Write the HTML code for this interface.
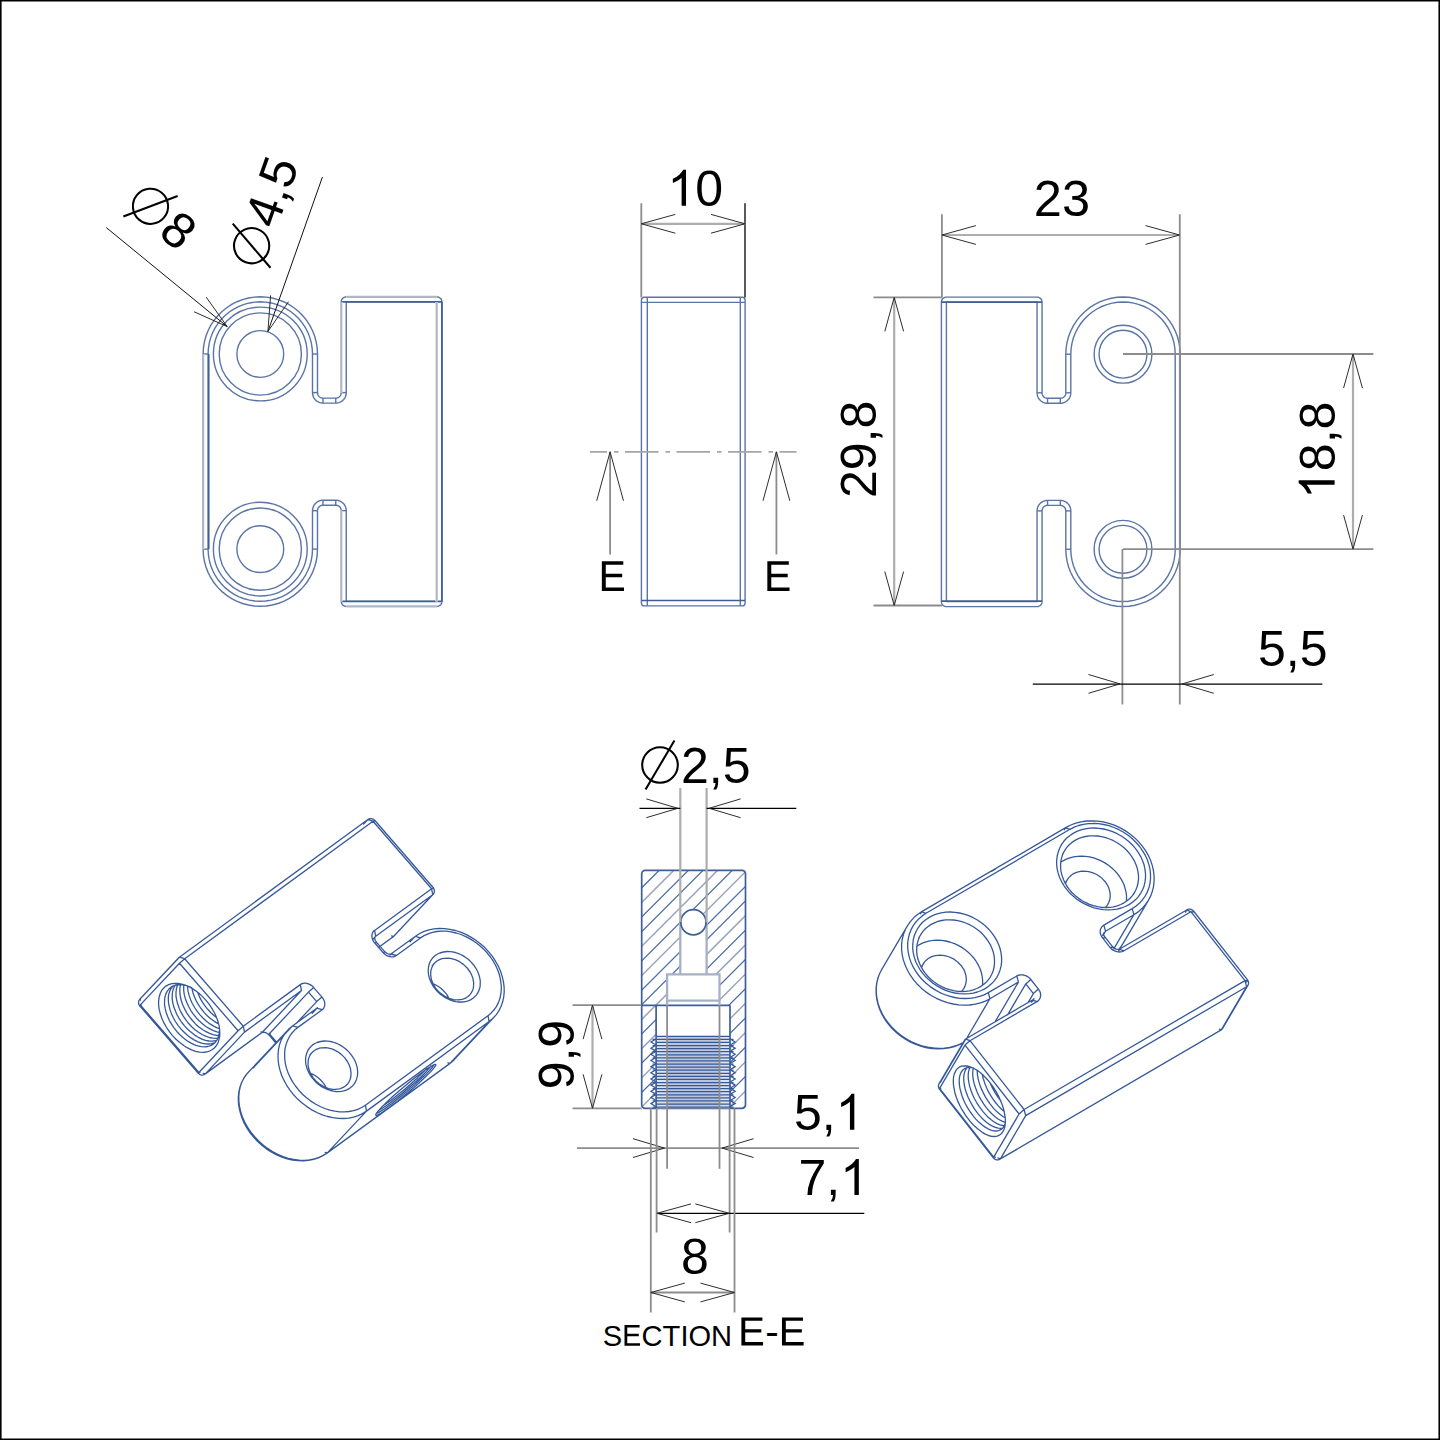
<!DOCTYPE html>
<html><head><meta charset="utf-8"><title>drawing</title><style>
html,body{margin:0;padding:0;background:#fff}
body{width:1440px;height:1440px;overflow:hidden;position:relative;font-family:"Liberation Sans",sans-serif}
svg{position:absolute;left:0;top:0;display:block}
text{font-family:"Liberation Sans",sans-serif;fill:#000}
path,circle,rect{fill:none}
.b{stroke:#5a74a6;stroke-width:1.4}
.bd{stroke:#3f5f96;stroke-width:1.7}
.bl{stroke:#aeb6c8;stroke-width:2.2}
.bl2{stroke:#a7b0c7;stroke-width:2.3}
.w{stroke:#fff;stroke-width:2.6}
.h{stroke:#4a6ba3;stroke-width:1.25}
.i{stroke:#35589a;stroke-width:1.3;stroke-linejoin:round;stroke-linecap:round}
.d{stroke:#000;stroke-width:1.3}
.g1{stroke:#8c8c8c;stroke-width:1.8}
.g2{stroke:#adadad;stroke-width:2.2}
.a{stroke:#222;stroke-width:0.95}
.hl{stroke:#98a4be;stroke-width:1.5}
.th{stroke:#35589a;stroke-width:1.25}
.ld{stroke:#111;stroke-width:1}
.chain{stroke:#a6a6a6;stroke-width:1.7;stroke-dasharray:33.5 7 4.5 6.5;stroke-dashoffset:16.4}
</style></head>
<body>
<svg width="1440" height="1440" viewBox="0 0 1440 1440">
<rect x="0" y="0" width="1440" height="1440" style="fill:#fff"/>
<path class="b" d="M346.25 296.9L436.9 296.9L436.9 296.9L437.42 296.93L437.94 297.01L438.45 297.14L438.93 297.33L439.4 297.57L439.84 297.85L440.25 298.18L440.62 298.55L440.95 298.96L441.23 299.4L441.47 299.87L441.66 300.35L441.79 300.86L441.87 301.38L441.9 301.9L441.9 301.9L441.9 601.4L441.9 601.4L441.87 601.92L441.79 602.44L441.66 602.95L441.47 603.43L441.23 603.9L440.95 604.34L440.62 604.75L440.25 605.12L439.84 605.45L439.4 605.73L438.93 605.97L438.45 606.16L437.94 606.29L437.42 606.37L436.9 606.4L436.9 606.4L346.25 606.4L346.25 606.4L345.73 606.37L345.21 606.29L344.7 606.16L344.22 605.97L343.75 605.73L343.31 605.45L342.9 605.12L342.53 604.75L342.2 604.34L341.92 603.9L341.68 603.43L341.49 602.95L341.36 602.44L341.28 601.92L341.25 601.4L341.25 601.4L341.25 510.7L341.25 510.7L341.22 510.13L341.13 509.56L340.98 509L340.77 508.46L340.51 507.95L340.2 507.47L339.84 507.02L339.43 506.61L338.98 506.25L338.5 505.94L337.99 505.68L337.45 505.47L336.89 505.32L336.32 505.23L335.75 505.2L335.75 505.2L323 505.2L323 505.2L322.43 505.23L321.86 505.32L321.3 505.47L320.76 505.68L320.25 505.94L319.77 506.25L319.32 506.61L318.91 507.02L318.55 507.47L318.24 507.95L317.98 508.46L317.77 509L317.62 509.56L317.53 510.13L317.5 510.7L317.5 510.7L317.5 549.1L317.5 549.1L317.19 555.08L316.25 560.99L314.7 566.78L312.55 572.37L309.84 577.7L306.58 582.72L302.81 587.37L298.57 591.61L293.92 595.38L288.9 598.64L283.57 601.35L277.98 603.5L272.19 605.05L266.28 605.99L260.3 606.3L254.32 605.99L248.41 605.05L242.62 603.5L237.03 601.35L231.7 598.64L226.68 595.38L222.03 591.61L217.79 587.37L214.02 582.72L210.76 577.7L208.05 572.37L205.9 566.78L204.35 560.99L203.41 555.08L203.1 549.1L203.1 549.1L203.1 354L203.1 354L203.41 348.02L204.35 342.11L205.9 336.32L208.05 330.73L210.76 325.4L214.02 320.38L217.79 315.73L222.03 311.49L226.68 307.72L231.7 304.46L237.03 301.75L242.62 299.6L248.41 298.05L254.32 297.11L260.3 296.8L266.28 297.11L272.19 298.05L277.98 299.6L283.57 301.75L288.9 304.46L293.92 307.72L298.57 311.49L302.81 315.73L306.58 320.38L309.84 325.4L312.55 330.73L314.7 336.32L316.25 342.11L317.19 348.02L317.5 354L317.5 354L317.5 392.6L317.5 392.6L317.53 393.17L317.62 393.74L317.77 394.3L317.98 394.84L318.24 395.35L318.55 395.83L318.91 396.28L319.32 396.69L319.77 397.05L320.25 397.36L320.76 397.62L321.3 397.83L321.86 397.98L322.43 398.07L323 398.1L323 398.1L335.75 398.1L335.75 398.1L336.32 398.07L336.89 397.98L337.45 397.83L337.99 397.62L338.5 397.36L338.98 397.05L339.43 396.69L339.84 396.28L340.2 395.83L340.51 395.35L340.77 394.84L340.98 394.3L341.13 393.74L341.22 393.17L341.25 392.6L341.25 392.6L341.25 301.9L341.25 301.9L341.28 301.38L341.36 300.86L341.49 300.35L341.68 299.87L341.92 299.4L342.2 298.96L342.53 298.55L342.9 298.18L343.31 297.85L343.75 297.57L344.22 297.33L344.7 297.14L345.21 297.01L345.73 296.93L346.25 296.9Z"/>
<path class="b" d="M346.25 301.9L436.9 301.9L436.9 301.9L436.9 301.9L436.9 301.9L436.9 301.9L436.9 301.9L436.9 301.9L436.9 301.9L436.9 301.9L436.9 301.9L436.9 301.9L436.9 301.9L436.9 301.9L436.9 301.9L436.9 301.9L436.9 301.9L436.9 301.9L436.9 301.9L436.9 601.4L436.9 601.4L436.9 601.4L436.9 601.4L436.9 601.4L436.9 601.4L436.9 601.4L436.9 601.4L436.9 601.4L436.9 601.4L436.9 601.4L436.9 601.4L436.9 601.4L436.9 601.4L436.9 601.4L436.9 601.4L436.9 601.4L436.9 601.4L346.25 601.4L346.25 601.4L346.25 601.4L346.25 601.4L346.25 601.4L346.25 601.4L346.25 601.4L346.25 601.4L346.25 601.4L346.25 601.4L346.25 601.4L346.25 601.4L346.25 601.4L346.25 601.4L346.25 601.4L346.25 601.4L346.25 601.4L346.25 601.4L346.25 510.7L346.25 510.7L346.19 509.6L346.02 508.52L345.74 507.46L345.34 506.43L344.84 505.45L344.24 504.53L343.55 503.67L342.78 502.9L341.92 502.21L341 501.61L340.02 501.11L338.99 500.71L337.93 500.43L336.85 500.26L335.75 500.2L335.75 500.2L323 500.2L323 500.2L321.9 500.26L320.82 500.43L319.76 500.71L318.73 501.11L317.75 501.61L316.83 502.21L315.97 502.9L315.2 503.67L314.51 504.53L313.91 505.45L313.41 506.43L313.01 507.46L312.73 508.52L312.56 509.6L312.5 510.7L312.5 510.7L312.5 549.1L312.5 549.1L312.21 554.56L311.36 559.95L309.95 565.23L307.99 570.33L305.51 575.2L302.53 579.78L299.09 584.03L295.23 587.89L290.98 591.33L286.4 594.31L281.53 596.79L276.43 598.75L271.15 600.16L265.76 601.01L260.3 601.3L254.84 601.01L249.45 600.16L244.17 598.75L239.07 596.79L234.2 594.31L229.62 591.33L225.37 587.89L221.51 584.03L218.07 579.78L215.09 575.2L212.61 570.33L210.65 565.23L209.24 559.95L208.39 554.56L208.1 549.1L208.1 549.1L208.1 354L208.1 354L208.39 348.54L209.24 343.15L210.65 337.87L212.61 332.77L215.09 327.9L218.07 323.32L221.51 319.07L225.37 315.21L229.62 311.77L234.2 308.79L239.07 306.31L244.17 304.35L249.45 302.94L254.84 302.09L260.3 301.8L265.76 302.09L271.15 302.94L276.43 304.35L281.53 306.31L286.4 308.79L290.98 311.77L295.23 315.21L299.09 319.07L302.53 323.32L305.51 327.9L307.99 332.77L309.95 337.87L311.36 343.15L312.21 348.54L312.5 354L312.5 354L312.5 392.6L312.5 392.6L312.56 393.7L312.73 394.78L313.01 395.84L313.41 396.87L313.91 397.85L314.51 398.77L315.2 399.63L315.97 400.4L316.83 401.09L317.75 401.69L318.73 402.19L319.76 402.59L320.82 402.87L321.9 403.04L323 403.1L323 403.1L335.75 403.1L335.75 403.1L336.85 403.04L337.93 402.87L338.99 402.59L340.02 402.19L341 401.69L341.92 401.09L342.78 400.4L343.55 399.63L344.24 398.77L344.84 397.85L345.34 396.87L345.74 395.84L346.02 394.78L346.19 393.7L346.25 392.6L346.25 392.6L346.25 301.9L346.25 301.9L346.25 301.9L346.25 301.9L346.25 301.9L346.25 301.9L346.25 301.9L346.25 301.9L346.25 301.9L346.25 301.9L346.25 301.9L346.25 301.9L346.25 301.9L346.25 301.9L346.25 301.9L346.25 301.9L346.25 301.9Z"/>
<path class="b" d="M341.25 510.7L346.25 510.7"/>
<path class="b" d="M335.75 505.2L335.75 500.2"/>
<path class="b" d="M323 505.2L323 500.2"/>
<path class="b" d="M317.5 510.7L312.5 510.7"/>
<path class="b" d="M317.5 549.1L312.5 549.1"/>
<path class="b" d="M203.1 549.1L208.1 549.1"/>
<path class="b" d="M203.1 354L208.1 354"/>
<path class="b" d="M317.5 354L312.5 354"/>
<path class="b" d="M317.5 392.6L312.5 392.6"/>
<path class="b" d="M323 398.1L323 403.1"/>
<path class="b" d="M335.75 398.1L335.75 403.1"/>
<path class="b" d="M341.25 392.6L346.25 392.6"/>
<circle class="b" cx="260.3" cy="354" r="46.9"/>
<circle class="b" cx="260.3" cy="354" r="41.1"/>
<circle class="b" cx="260.3" cy="354" r="23.4"/>
<circle class="b" cx="260.3" cy="549.1" r="46.9"/>
<circle class="b" cx="260.3" cy="549.1" r="41.1"/>
<circle class="b" cx="260.3" cy="549.1" r="23.4"/>
<path class="w" d="M203.1 354L203.1 549.1"/>
<path class="bl" d="M203.1 354L203.1 549.1"/>
<path class="bd" d="M208.7 354L208.7 549.1"/>
<path class="w" d="M346.25 296.9L436.9 296.9"/>
<path class="bl" d="M346.25 296.9L436.9 296.9"/>
<path class="w" d="M346.25 606.4L436.9 606.4"/>
<path class="bl" d="M346.25 606.4L436.9 606.4"/>
<path class="bd" d="M341.25 301.9L441.9 301.9"/>
<path class="bd" d="M341.25 601.4L441.9 601.4"/>
<path class="w" d="M436.7 301.9L436.7 601.4"/>
<path class="bl" d="M436.7 301.9L436.7 601.4"/>
<path class="bd" d="M441.9 301.9L441.9 601.4"/>
<path class="w" d="M341.25 301.9L341.25 392.6"/>
<path class="bl" d="M341.25 301.9L341.25 392.6"/>
<path class="w" d="M341.25 601.4L341.25 510.7"/>
<path class="bl" d="M341.25 601.4L341.25 510.7"/>
<path class="ld" d="M106.3 227.6L227.2 326.6"/>
<path class="a" d="M206.14 297.08L227.2 326.6L194.1 311.78"/>
<path class="ld" d="M322.4 177.1L267.9 331.5"/>
<path class="a" d="M288.51 301.66L267.9 331.5L270.59 295.33"/>
<g transform="translate(150.5 206.3) rotate(39.31)"><circle cx="0" cy="0" r="17.6" fill="none" stroke="#000" stroke-width="2.05"/><path d="M-14.5 25.11L14.5 -25.11" stroke="#000" stroke-width="2.05" fill="none"/><text x="23" y="17.9" font-size="50">8</text></g>
<g transform="translate(251.6 245.7) rotate(-70.56)"><circle cx="0" cy="0" r="17.6" fill="none" stroke="#000" stroke-width="2.05"/><path d="M-14.5 25.11L14.5 -25.11" stroke="#000" stroke-width="2.05" fill="none"/><text x="23" y="17.9" font-size="50">4,5</text></g>
<rect class="b" x="641.4" y="297.2" width="103.7" height="308.7" rx="3" ry="3"/>
<path class="b" d="M647.3 297.2L647.3 605.9"/>
<path class="b" d="M740.3 297.2L740.3 605.9"/>
<path class="b" d="M641.4 302.4L745.1 302.4"/>
<path class="bd" d="M641.4 600.5L745.1 600.5"/>
<path class="chain" d="M589.9 451.8H796.6"/>
<path class="g1" d="M610.1 451.8L610.1 554.4"/>
<path class="a" d="M596.7 500.8L610.1 451.8L623.5 500.8"/>
<path class="g1" d="M776.4 451.8L776.4 554.4"/>
<path class="a" d="M763 500.8L776.4 451.8L789.8 500.8"/>
<g transform="translate(612.4 590.9) translate(-13.84 0)"><path d="M162 0V-1466H1222V-1293H356V-844H1167V-672H356V-173H1256V0Z" transform="translate(0 0) scale(0.02026)" style="fill:#000;stroke:none"/></g>
<g transform="translate(777.9 590.9) translate(-13.84 0)"><path d="M162 0V-1466H1222V-1293H356V-844H1167V-672H356V-173H1256V0Z" transform="translate(0 0) scale(0.02026)" style="fill:#000;stroke:none"/></g>
<path class="g1" d="M641.3 203.3L641.3 297.5"/>
<path class="d" d="M745 203.3L745 297.5"/>
<path class="g2" d="M641.3 223.8L745 223.8"/>
<path class="a" d="M675.3 233.2L641.3 223.8L675.3 214.4"/>
<path class="a" d="M711 214.4L745 223.8L711 233.2"/>
<g transform="translate(695.2 205.8) translate(-27.81 0)"><path d="M763 0H583V-1147Q518 -1085 412.5 -1023Q307 -961 223 -930V-1104Q374 -1175 487 -1276Q600 -1377 647 -1472H763Z" transform="translate(0 0) scale(0.02441)" style="fill:#000;stroke:none"/><text x="27.81" y="0" font-size="50">0</text></g>
<path class="b" d="M1037.05 297.1L946.4 297.1L946.4 297.1L945.88 297.13L945.36 297.21L944.85 297.34L944.37 297.53L943.9 297.77L943.46 298.05L943.05 298.38L942.68 298.75L942.35 299.16L942.07 299.6L941.83 300.07L941.64 300.55L941.51 301.06L941.43 301.58L941.4 302.1L941.4 302.1L941.4 601.6L941.4 601.6L941.43 602.12L941.51 602.64L941.64 603.15L941.83 603.63L942.07 604.1L942.35 604.54L942.68 604.95L943.05 605.32L943.46 605.65L943.9 605.93L944.37 606.17L944.85 606.36L945.36 606.49L945.88 606.57L946.4 606.6L946.4 606.6L1037.05 606.6L1037.05 606.6L1037.57 606.57L1038.09 606.49L1038.6 606.36L1039.08 606.17L1039.55 605.93L1039.99 605.65L1040.4 605.32L1040.77 604.95L1041.1 604.54L1041.38 604.1L1041.62 603.63L1041.81 603.15L1041.94 602.64L1042.02 602.12L1042.05 601.6L1042.05 601.6L1042.05 510.9L1042.05 510.9L1042.08 510.33L1042.17 509.76L1042.32 509.2L1042.53 508.66L1042.79 508.15L1043.1 507.67L1043.46 507.22L1043.87 506.81L1044.32 506.45L1044.8 506.14L1045.31 505.88L1045.85 505.67L1046.41 505.52L1046.98 505.43L1047.55 505.4L1047.55 505.4L1060.3 505.4L1060.3 505.4L1060.87 505.43L1061.44 505.52L1062 505.67L1062.54 505.88L1063.05 506.14L1063.53 506.45L1063.98 506.81L1064.39 507.22L1064.75 507.67L1065.06 508.15L1065.32 508.66L1065.53 509.2L1065.68 509.76L1065.77 510.33L1065.8 510.9L1065.8 510.9L1065.8 549.3L1065.8 549.3L1066.11 555.28L1067.05 561.19L1068.6 566.98L1070.75 572.57L1073.46 577.9L1076.72 582.92L1080.49 587.57L1084.73 591.81L1089.38 595.58L1094.4 598.84L1099.73 601.55L1105.32 603.7L1111.11 605.25L1117.02 606.19L1123 606.5L1128.98 606.19L1134.89 605.25L1140.68 603.7L1146.27 601.55L1151.6 598.84L1156.62 595.58L1161.27 591.81L1165.51 587.57L1169.28 582.92L1172.54 577.9L1175.25 572.57L1177.4 566.98L1178.95 561.19L1179.89 555.28L1180.2 549.3L1180.2 549.3L1180.2 354.2L1180.2 354.2L1179.89 348.22L1178.95 342.31L1177.4 336.52L1175.25 330.93L1172.54 325.6L1169.28 320.58L1165.51 315.93L1161.27 311.69L1156.62 307.92L1151.6 304.66L1146.27 301.95L1140.68 299.8L1134.89 298.25L1128.98 297.31L1123 297L1117.02 297.31L1111.11 298.25L1105.32 299.8L1099.73 301.95L1094.4 304.66L1089.38 307.92L1084.73 311.69L1080.49 315.93L1076.72 320.58L1073.46 325.6L1070.75 330.93L1068.6 336.52L1067.05 342.31L1066.11 348.22L1065.8 354.2L1065.8 354.2L1065.8 392.8L1065.8 392.8L1065.77 393.37L1065.68 393.94L1065.53 394.5L1065.32 395.04L1065.06 395.55L1064.75 396.03L1064.39 396.48L1063.98 396.89L1063.53 397.25L1063.05 397.56L1062.54 397.82L1062 398.03L1061.44 398.18L1060.87 398.27L1060.3 398.3L1060.3 398.3L1047.55 398.3L1047.55 398.3L1046.98 398.27L1046.41 398.18L1045.85 398.03L1045.31 397.82L1044.8 397.56L1044.32 397.25L1043.87 396.89L1043.46 396.48L1043.1 396.03L1042.79 395.55L1042.53 395.04L1042.32 394.5L1042.17 393.94L1042.08 393.37L1042.05 392.8L1042.05 392.8L1042.05 302.1L1042.05 302.1L1042.02 301.58L1041.94 301.06L1041.81 300.55L1041.62 300.07L1041.38 299.6L1041.1 299.16L1040.77 298.75L1040.4 298.38L1039.99 298.05L1039.55 297.77L1039.08 297.53L1038.6 297.34L1038.09 297.21L1037.57 297.13L1037.05 297.1Z"/>
<path class="b" d="M1037.05 302.1L946.4 302.1L946.4 302.1L946.4 302.1L946.4 302.1L946.4 302.1L946.4 302.1L946.4 302.1L946.4 302.1L946.4 302.1L946.4 302.1L946.4 302.1L946.4 302.1L946.4 302.1L946.4 302.1L946.4 302.1L946.4 302.1L946.4 302.1L946.4 302.1L946.4 601.6L946.4 601.6L946.4 601.6L946.4 601.6L946.4 601.6L946.4 601.6L946.4 601.6L946.4 601.6L946.4 601.6L946.4 601.6L946.4 601.6L946.4 601.6L946.4 601.6L946.4 601.6L946.4 601.6L946.4 601.6L946.4 601.6L946.4 601.6L1037.05 601.6L1037.05 601.6L1037.05 601.6L1037.05 601.6L1037.05 601.6L1037.05 601.6L1037.05 601.6L1037.05 601.6L1037.05 601.6L1037.05 601.6L1037.05 601.6L1037.05 601.6L1037.05 601.6L1037.05 601.6L1037.05 601.6L1037.05 601.6L1037.05 601.6L1037.05 601.6L1037.05 510.9L1037.05 510.9L1037.11 509.8L1037.28 508.72L1037.56 507.66L1037.96 506.63L1038.46 505.65L1039.06 504.73L1039.75 503.87L1040.52 503.1L1041.38 502.41L1042.3 501.81L1043.28 501.31L1044.31 500.91L1045.37 500.63L1046.45 500.46L1047.55 500.4L1047.55 500.4L1060.3 500.4L1060.3 500.4L1061.4 500.46L1062.48 500.63L1063.54 500.91L1064.57 501.31L1065.55 501.81L1066.47 502.41L1067.33 503.1L1068.1 503.87L1068.79 504.73L1069.39 505.65L1069.89 506.63L1070.29 507.66L1070.57 508.72L1070.74 509.8L1070.8 510.9L1070.8 510.9L1070.8 549.3L1070.8 549.3L1071.09 554.76L1071.94 560.15L1073.35 565.43L1075.31 570.53L1077.79 575.4L1080.77 579.98L1084.21 584.23L1088.07 588.09L1092.32 591.53L1096.9 594.51L1101.77 596.99L1106.87 598.95L1112.15 600.36L1117.54 601.21L1123 601.5L1128.46 601.21L1133.85 600.36L1139.13 598.95L1144.23 596.99L1149.1 594.51L1153.68 591.53L1157.93 588.09L1161.79 584.23L1165.23 579.98L1168.21 575.4L1170.69 570.53L1172.65 565.43L1174.06 560.15L1174.91 554.76L1175.2 549.3L1175.2 549.3L1175.2 354.2L1175.2 354.2L1174.91 348.74L1174.06 343.35L1172.65 338.07L1170.69 332.97L1168.21 328.1L1165.23 323.52L1161.79 319.27L1157.93 315.41L1153.68 311.97L1149.1 308.99L1144.23 306.51L1139.13 304.55L1133.85 303.14L1128.46 302.29L1123 302L1117.54 302.29L1112.15 303.14L1106.87 304.55L1101.77 306.51L1096.9 308.99L1092.32 311.97L1088.07 315.41L1084.21 319.27L1080.77 323.52L1077.79 328.1L1075.31 332.97L1073.35 338.07L1071.94 343.35L1071.09 348.74L1070.8 354.2L1070.8 354.2L1070.8 392.8L1070.8 392.8L1070.74 393.9L1070.57 394.98L1070.29 396.04L1069.89 397.07L1069.39 398.05L1068.79 398.97L1068.1 399.83L1067.33 400.6L1066.47 401.29L1065.55 401.89L1064.57 402.39L1063.54 402.79L1062.48 403.07L1061.4 403.24L1060.3 403.3L1060.3 403.3L1047.55 403.3L1047.55 403.3L1046.45 403.24L1045.37 403.07L1044.31 402.79L1043.28 402.39L1042.3 401.89L1041.38 401.29L1040.52 400.6L1039.75 399.83L1039.06 398.97L1038.46 398.05L1037.96 397.07L1037.56 396.04L1037.28 394.98L1037.11 393.9L1037.05 392.8L1037.05 392.8L1037.05 302.1L1037.05 302.1L1037.05 302.1L1037.05 302.1L1037.05 302.1L1037.05 302.1L1037.05 302.1L1037.05 302.1L1037.05 302.1L1037.05 302.1L1037.05 302.1L1037.05 302.1L1037.05 302.1L1037.05 302.1L1037.05 302.1L1037.05 302.1L1037.05 302.1Z"/>
<path class="b" d="M1042.05 510.9L1037.05 510.9"/>
<path class="b" d="M1047.55 505.4L1047.55 500.4"/>
<path class="b" d="M1060.3 505.4L1060.3 500.4"/>
<path class="b" d="M1065.8 510.9L1070.8 510.9"/>
<path class="b" d="M1065.8 549.3L1070.8 549.3"/>
<path class="b" d="M1180.2 549.3L1175.2 549.3"/>
<path class="b" d="M1180.2 354.2L1175.2 354.2"/>
<path class="b" d="M1065.8 354.2L1070.8 354.2"/>
<path class="b" d="M1065.8 392.8L1070.8 392.8"/>
<path class="b" d="M1060.3 398.3L1060.3 403.3"/>
<path class="b" d="M1047.55 398.3L1047.55 403.3"/>
<path class="b" d="M1042.05 392.8L1037.05 392.8"/>
<circle class="b" cx="1123" cy="354.2" r="28.9"/>
<circle class="b" cx="1123" cy="354.2" r="23.9"/>
<circle class="b" cx="1123" cy="549.3" r="28.9"/>
<circle class="b" cx="1123" cy="549.3" r="23.9"/>
<path class="bd" d="M1042.05 302.1L941.4 302.1"/>
<path class="bd" d="M1042.05 601.2L941.4 601.2"/>
<path class="g1" d="M941.9 214.2L941.9 297.5"/>
<path class="g1" d="M1179.8 214.2L1179.8 704.4"/>
<path class="g2" d="M941.9 235L1179.6 235"/>
<path class="a" d="M975.9 244.4L941.9 235L975.9 225.6"/>
<path class="a" d="M1145.6 225.6L1179.6 235L1145.6 244.4"/>
<g transform="translate(1061.9 215.6) translate(-28.09 0)"><text x="0" y="0" font-size="50.5">23</text></g>
<path class="g1" d="M873.5 297.4L941.9 297.4"/>
<path class="g1" d="M873.5 605.5L941.9 605.5"/>
<path class="g2" d="M894.2 297.4L894.2 605.5"/>
<path class="a" d="M884.8 331.4L894.2 297.4L903.6 331.4"/>
<path class="a" d="M903.6 571.5L894.2 605.5L884.8 571.5"/>
<g transform="translate(876.4 449.4) rotate(-90) translate(-48.66 0)"><text x="0" y="0" font-size="50">29,8</text></g>
<path class="g1" d="M1122.9 354L1373.4 354"/>
<path class="g1" d="M1122.9 549.1L1373.4 549.1"/>
<path class="g2" d="M1353 354L1353 549.1"/>
<path class="a" d="M1343.6 388L1353 354L1362.4 388"/>
<path class="a" d="M1362.4 515.1L1353 549.1L1343.6 515.1"/>
<g transform="translate(1334.6 450.3) rotate(-90) translate(-48.66 0)"><path d="M763 0H583V-1147Q518 -1085 412.5 -1023Q307 -961 223 -930V-1104Q374 -1175 487 -1276Q600 -1377 647 -1472H763Z" transform="translate(0 0) scale(0.02441)" style="fill:#000;stroke:none"/><text x="27.81" y="0" font-size="50">8,8</text></g>
<path class="g1" d="M1122.4 549.1L1122.4 704.4"/>
<path class="d" d="M1032.8 684.1L1322.4 684.1"/>
<path class="a" d="M1088.5 674.5L1120 683.9L1088.5 693.3"/>
<path class="a" d="M1213.8 693.3L1182.3 683.9L1213.8 674.5"/>
<g transform="translate(1258 665.7)"><text x="0" y="0" font-size="50">5,5</text></g>
<clipPath id="mat"><path clip-rule="evenodd" d="M641.7 870.3H745.5V1108.3H641.7ZM680.3 974.4V922.2A13.15 13.15 0 0 1 706.6 922.2V974.4H719.5V1005.3H730V1108.3H656.1V1005.3H667.1V974.4Z"/></clipPath>
<g clip-path="url(#mat)"><path class="hl" d="M639.7 904.42L747.5 796.62M639.7 948.28L747.5 840.48M639.7 977.52L747.5 869.72M639.7 1021.38L747.5 913.58M639.7 1050.62L747.5 942.82M639.7 1079.86L747.5 972.06M639.7 1109.1L747.5 1001.3M639.7 1138.34L747.5 1030.54M639.7 1167.58L747.5 1059.78M639.7 1196.82L747.5 1089.02"/><path class="h" d="M639.7 889.8L747.5 782M639.7 919.04L747.5 811.24M639.7 933.66L747.5 825.86M639.7 962.9L747.5 855.1M639.7 992.14L747.5 884.34M639.7 1006.76L747.5 898.96M639.7 1036L747.5 928.2M639.7 1065.24L747.5 957.44M639.7 1094.48L747.5 986.68M639.7 1123.72L747.5 1015.92M639.7 1152.96L747.5 1045.16M639.7 1182.2L747.5 1074.4M639.7 1211.44L747.5 1103.64"/></g>
<rect class="bd" x="641.7" y="870.3" width="103.8" height="238" rx="3.5" ry="3.5"/>
<rect x="667.1" y="1036" width="52.4" height="72.3" style="fill:#bcc5d8"/>
<rect x="656.1" y="1036" width="11" height="72.3" style="fill:#dde2ec"/>
<rect x="719.5" y="1036" width="10.5" height="72.3" style="fill:#dde2ec"/>
<path class="th" d="M656.1 1036.3H730M652.6 1039.38H733.5M656.1 1042.46H730M652.6 1045.54H733.5M656.1 1048.62H730M652.6 1051.7H733.5M656.1 1054.78H730M652.6 1057.86H733.5M656.1 1060.94H730M652.6 1064.02H733.5M656.1 1067.1H730M652.6 1070.18H733.5M656.1 1073.26H730M652.6 1076.34H733.5M656.1 1079.42H730M652.6 1082.5H733.5M656.1 1085.58H730M652.6 1088.66H733.5M656.1 1091.74H730M652.6 1094.82H733.5M656.1 1097.9H730M652.6 1100.98H733.5M656.1 1104.06H730M652.6 1107.14H733.5"/>
<path class="th" d="M656.1 1038.92L650.9 1042L656.1 1045.08L650.9 1048.16L656.1 1051.24L650.9 1054.32L656.1 1057.4L650.9 1060.48L656.1 1063.56L650.9 1066.64L656.1 1069.72L650.9 1072.8L656.1 1075.88L650.9 1078.96L656.1 1082.04L650.9 1085.12L656.1 1088.2L650.9 1091.28L656.1 1094.36L650.9 1097.44L656.1 1100.52L650.9 1103.6L656.1 1106.68M730 1038.92L735.2 1042L730 1045.08L735.2 1048.16L730 1051.24L735.2 1054.32L730 1057.4L735.2 1060.48L730 1063.56L735.2 1066.64L730 1069.72L735.2 1072.8L730 1075.88L735.2 1078.96L730 1082.04L735.2 1085.12L730 1088.2L735.2 1091.28L730 1094.36L735.2 1097.44L730 1100.52L735.2 1103.6L730 1106.68"/>
<path class="bd" d="M656.1 1108.3V1005.3M730 1108.3V1005.3M641.7 1005.3H730"/>
<path class="bl2" d="M667.1 1005.3V974.4H719.5V1005.3M667.1 1000.6H719.5"/>
<path class="bl2" d="M680.3 974.4V922.2M706.6 974.4V922.2"/>
<circle class="bd" cx="693.4" cy="922.2" r="12.6"/>
<path class="g2" d="M680.3 788L680.3 922"/>
<path class="g2" d="M706.6 788L706.6 922"/>
<path class="d" d="M639.5 808.3L680.3 808.3"/>
<path class="d" d="M706.6 808.3L796.3 808.3"/>
<path class="a" d="M646.3 798.9L677.8 808.3L646.3 817.7"/>
<path class="a" d="M740.6 817.7L709.1 808.3L740.6 798.9"/>
<g transform="translate(660 765)"><circle cx="0" cy="0" r="17.8" fill="none" stroke="#000" stroke-width="2.05"/><path d="M-14.46 24.56L14.46 -24.56" stroke="#000" stroke-width="2.05" fill="none"/></g>
<g transform="translate(681 782.6)"><text x="0" y="0" font-size="50">2,5</text></g>
<path class="g1" d="M572.5 1005.2L641.6 1005.2"/>
<path class="g1" d="M572.5 1108.3L641.6 1108.3"/>
<path class="g2" d="M592.5 1005.2L592.5 1108.3"/>
<path class="a" d="M583.1 1039.2L592.5 1005.2L601.9 1039.2"/>
<path class="a" d="M601.9 1074.3L592.5 1108.3L583.1 1074.3"/>
<g transform="translate(573.9 1054.6) rotate(-90) translate(-34.75 0)"><text x="0" y="0" font-size="50">9,9</text></g>
<path class="g1" d="M667.1 1005.3L667.1 1168.8"/>
<path class="g1" d="M719.5 1005.3L719.5 1168.8"/>
<path class="g1" d="M577 1148.1L859 1148.1"/>
<path class="a" d="M633 1138.7L664.5 1148.1L633 1157.5"/>
<path class="a" d="M753.6 1157.5L722.1 1148.1L753.6 1138.7"/>
<g transform="translate(794 1129.7)"><text x="0" y="0" font-size="50">5,</text><path d="M763 0H583V-1147Q518 -1085 412.5 -1023Q307 -961 223 -930V-1104Q374 -1175 487 -1276Q600 -1377 647 -1472H763Z" transform="translate(41.7 0) scale(0.02441)" style="fill:#000;stroke:none"/></g>
<path class="g1" d="M656.6 1108.2L656.6 1232.5"/>
<path class="g1" d="M729.6 1108.2L729.6 1232.5"/>
<path class="d" d="M657 1213.3L864.3 1213.3"/>
<path class="a" d="M691 1222.7L657 1213.3L691 1203.9"/>
<path class="a" d="M695.3 1203.9L729.3 1213.3L695.3 1222.7"/>
<g transform="translate(798.5 1194.9)"><text x="0" y="0" font-size="50">7,</text><path d="M763 0H583V-1147Q518 -1085 412.5 -1023Q307 -961 223 -930V-1104Q374 -1175 487 -1276Q600 -1377 647 -1472H763Z" transform="translate(41.7 0) scale(0.02441)" style="fill:#000;stroke:none"/></g>
<path class="g1" d="M650.8 1108.2L650.8 1312.5"/>
<path class="g1" d="M734.5 1108.2L734.5 1312.5"/>
<path class="g1" d="M650.8 1292.5L734.5 1292.5"/>
<path class="a" d="M684.8 1301.9L650.8 1292.5L684.8 1283.1"/>
<path class="a" d="M700.5 1283.1L734.5 1292.5L700.5 1301.9"/>
<g transform="translate(694.8 1273.7) translate(-13.9 0)"><text x="0" y="0" font-size="50">8</text></g>
<g transform="translate(602.8 1345.8)"><text x="0" y="0" font-size="29.1">S</text><path d="M162 0V-1466H1222V-1293H356V-844H1167V-672H356V-173H1256V0Z" transform="translate(19.41 0) scale(0.01421)" style="fill:#000;stroke:none"/><text x="38.82" y="0" font-size="29.1">CTION</text></g>
<g transform="translate(738.2 1345.4) scale(1.04 1)"><path d="M162 0V-1466H1222V-1293H356V-844H1167V-672H356V-173H1256V0Z" transform="translate(0 0) scale(0.01904)" style="fill:#000;stroke:none"/><text x="26.01" y="0" font-size="39">-</text><path d="M162 0V-1466H1222V-1293H356V-844H1167V-672H356V-173H1256V0Z" transform="translate(39 0) scale(0.01904)" style="fill:#000;stroke:none"/></g>
<path class="i" d="M243.3 1026.2L184.7 958.7M238.1 1030.7L179.5 963.2M198.9 1072.5L140.3 1004.9M243.3 1026.2L238.1 1030.7M238.1 1030.7L198.9 1072.5M198.9 1072.5L199.9 1072.4M184.7 958.7L179.5 963.2M179.5 963.2L140.3 1004.9M140.3 1004.9L141.3 1004.9M184.7 958.7L373 821.2M184.7 958.7L179.4 957.2M179.4 957.2L140.2 998.9M140.2 998.9L140.5 1000.2M373 821.2L367.7 819.7M367.7 819.7L363.6 824.1M373 821.2L431.6 888.8M373 821.2L374.1 821.2M431.6 888.8L432.6 888.7M431.6 888.8L374.6 930.4M432.7 894.7L375.7 936.3M393.5 936.5L379.1 947M431.6 888.8L432.7 894.7M432.7 894.7L393.5 936.5M393.5 936.5L391.5 935.9M374.6 930.4L373.9 930.9M373.9 930.9L373.4 931.5M373.4 931.5L372.9 932.2M372.9 932.2L372.5 933M372.5 933L372.2 933.8M372.2 933.8L372 934.7M372 934.7L371.9 935.6M371.9 935.6L371.9 936.5M371.9 936.5L372 937.5M372 937.5L372.3 938.5M372.3 938.5L372.6 939.4M372.6 939.4L373 940.4M373 940.4L373.5 941.3M373.5 941.3L374.1 942.2M374.1 942.2L374.8 943M374.6 930.4L375.7 936.3M375.7 936.3L373.7 938.5M374.8 943L383 952.5M374.8 943L375.8 942.9M383 952.5L383.7 953.3M383.7 953.3L384.6 954M384.6 954L385.4 954.7M385.4 954.7L386.3 955.3M386.3 955.3L387.3 955.8M387.3 955.8L388.3 956.2M388.3 956.2L389.2 956.5M389.2 956.5L390.2 956.7M390.2 956.7L391.2 956.9M391.2 956.9L392.2 956.9M392.2 956.9L393.1 956.8M393.1 956.8L394 956.6M394 956.6L394.9 956.3M394.9 956.3L395.7 956M395.7 956L396.4 955.5M383 952.5L384.1 952.4M396.4 955.5L420.5 937.9M396.4 955.5L391.1 954M391.1 954L390 955.1M420.5 937.9L424.1 935.6M424.1 935.6L428.1 933.8M428.1 933.8L432.3 932.4M432.3 932.4L436.8 931.5M436.8 931.5L441.5 931.1M441.5 931.1L446.3 931.2M446.3 931.2L451.1 931.9M451.1 931.9L456.1 933M456.1 933L461 934.5M461 934.5L465.8 936.6M465.8 936.6L470.5 939.1M470.5 939.1L475 942M475 942L479.3 945.3M479.3 945.3L483.4 948.9M483.4 948.9L487.1 952.8M487.1 952.8L490.4 957M490.4 957L493.4 961.4M493.4 961.4L495.9 966M495.9 966L498 970.7M498 970.7L499.6 975.5M499.6 975.5L500.6 980.3M500.6 980.3L501.2 985M501.2 985L501.3 989.6M501.3 989.6L500.8 994.2M500.8 994.2L499.9 998.5M499.9 998.5L498.4 1002.6M498.4 1002.6L496.5 1006.4M496.5 1006.4L494.1 1009.8M494.1 1009.8L491.2 1012.9M491.2 1012.9L488 1015.7M492.7 1018.6L489.1 1021.6M453.5 1060.4L449.9 1063.4M420.5 937.9L415.2 936.4M415.2 936.4L410.1 941.8M488 1015.7L365.4 1105.2M489.1 1021.6L366.5 1111.1M449.9 1063.4L327.3 1152.9M488 1015.7L489.1 1021.6M489.1 1021.6L449.9 1063.4M449.9 1063.4L447.9 1062.8M365.4 1105.2L361.7 1107.5M366.5 1111.1L362.5 1113.6M327.3 1152.9L323.3 1155.4M361.7 1107.5L357.8 1109.3M362.5 1113.6L358.2 1115.6M323.3 1155.4L319 1157.4M357.8 1109.3L353.6 1110.7M358.2 1115.6L353.6 1117.1M319 1157.4L314.4 1158.9M353.6 1110.7L349.1 1111.5M353.6 1117.1L348.7 1118.1M314.4 1158.9L309.5 1159.9M349.1 1111.5L344.4 1111.9M348.7 1118.1L343.6 1118.5M309.5 1159.9L304.4 1160.3M344.4 1111.9L339.6 1111.8M343.6 1118.5L338.3 1118.4M304.4 1160.3L299.1 1160.2M339.6 1111.8L334.7 1111.2M338.3 1118.4L332.9 1117.7M299.1 1160.2L293.7 1159.5M334.7 1111.2L329.8 1110.1M332.9 1117.7L327.6 1116.5M293.7 1159.5L288.3 1158.3M329.8 1110.1L324.9 1108.5M327.6 1116.5L322.2 1114.8M288.3 1158.3L283 1156.6M324.9 1108.5L320.1 1106.5M322.2 1114.8L316.9 1112.5M283 1156.6L277.7 1154.3M320.1 1106.5L315.4 1104M316.9 1112.5L311.7 1109.8M277.7 1154.3L272.5 1151.6M315.4 1104L310.8 1101.1M311.7 1109.8L306.8 1106.6M272.5 1151.6L267.6 1148.4M310.8 1101.1L306.5 1097.8M306.8 1106.6L302.1 1103M267.6 1148.4L262.8 1144.8M306.5 1097.8L302.5 1094.2M302.1 1103L297.6 1099.1M262.8 1144.8L258.4 1140.8M302.5 1094.2L298.8 1090.2M297.6 1099.1L293.6 1094.8M258.4 1140.8L254.4 1136.5M298.8 1090.2L295.5 1086M293.6 1094.8L289.9 1090.2M254.4 1136.5L250.7 1131.9M295.5 1086L292.5 1081.6M289.9 1090.2L286.7 1085.3M250.7 1131.9L247.5 1127.1M292.5 1081.6L290 1077.1M286.7 1085.3L283.9 1080.3M247.5 1127.1L244.7 1122.1M290 1077.1L287.9 1072.4M283.9 1080.3L281.6 1075.2M244.7 1122.1L242.4 1116.9M287.9 1072.4L286.3 1067.6M281.6 1075.2L279.9 1069.9M242.4 1116.9L240.7 1111.7M286.3 1067.6L285.2 1062.8M279.9 1069.9L278.7 1064.7M240.7 1111.7L239.5 1106.5M285.2 1062.8L284.7 1058.1M278.7 1064.7L278.1 1059.5M239.5 1106.5L238.9 1101.3M284.7 1058.1L284.6 1053.4M278.1 1059.5L278 1054.4M238.9 1101.3L238.8 1096.2M284.6 1053.4L285 1048.9M278 1054.4L278.5 1049.5M238.8 1096.2L239.3 1091.2M285 1048.9L286 1044.6M278.5 1049.5L279.5 1044.7M239.3 1091.2L240.3 1086.5M286 1044.6L287.5 1040.5M279.5 1044.7L281.1 1040.3M240.3 1086.5L241.9 1082M287.5 1040.5L289.4 1036.7M281.1 1040.3L283.3 1036.1M241.9 1082L244.1 1077.9M289.4 1036.7L291.8 1033.2M283.3 1036.1L285.9 1032.3M244.1 1077.9L246.7 1074.1M291.8 1033.2L294.6 1030.1M294.6 1030.1L297.9 1027.4M365.4 1105.2L366.5 1111.1M366.5 1111.1L327.3 1152.9M327.3 1152.9L325.3 1152.3M297.9 1027.4L322.2 1009.7M297.9 1027.4L292.6 1025.9M292.6 1025.9L253.4 1067.7M322.2 1009.7L322.8 1009.2M322.8 1009.2L323.4 1008.5M323.4 1008.5L323.9 1007.8M323.9 1007.8L324.2 1007.1M324.2 1007.1L324.5 1006.2M324.5 1006.2L324.7 1005.4M324.7 1005.4L324.8 1004.5M324.8 1004.5L324.8 1003.5M324.8 1003.5L324.7 1002.6M324.7 1002.6L324.5 1001.6M324.5 1001.6L324.2 1000.7M324.2 1000.7L323.7 999.7M323.7 999.7L323.2 998.8M323.2 998.8L322.6 997.9M322.6 997.9L322 997.1M322.2 1009.7L316.8 1008.2M316.8 1008.2L312.2 1013.1M322 997.1L313.7 987.6M316.7 1001.6L308.5 992.1M276.6 1042.2L269.3 1033.8M322 997.1L316.7 1001.6M316.7 1001.6L296.4 1023.3M313.7 987.6L313 986.8M313 986.8L312.2 986M312.2 986L311.3 985.4M311.3 985.4L310.4 984.8M310.4 984.8L309.4 984.3M309.4 984.3L308.5 983.9M308.5 983.9L307.5 983.6M307.5 983.6L306.5 983.3M306.5 983.3L305.5 983.2M305.5 983.2L304.5 983.2M304.5 983.2L303.6 983.3M303.6 983.3L302.7 983.5M302.7 983.5L301.9 983.7M301.9 983.7L301.1 984.1M301.1 984.1L300.3 984.6M313.7 987.6L308.5 992.1M308.5 992.1L269.3 1033.8M269.3 1033.8L270.3 1033.8M300.3 984.6L243.3 1026.2M301.5 990.5L244.5 1032.1M262.3 1032.3L205.3 1073.9M300.3 984.6L301.5 990.5M301.5 990.5L262.3 1032.3M262.3 1032.3L260.9 1031.9M243.3 1026.2L244.5 1032.1M244.5 1032.1L205.3 1073.9M205.3 1073.9L203.3 1073.3M312.9 1044.8L314.9 1043.5L317.1 1042.5L320.7 1041.5L324.5 1041L327.2 1041.1L329.9 1041.4L332.6 1042L335.3 1042.9L338 1044L340.6 1045.4L343.1 1047L345.5 1048.8L348.8 1051.9L351.6 1055.4L353.3 1057.8L354.7 1060.3L355.8 1062.9L356.7 1065.6L357.3 1068.2L357.6 1070.8L357.7 1073.4L357.4 1075.9L356.5 1079.4L355 1082.7L353.7 1084.6L352.1 1086.3L350.3 1087.8L348.3 1089.1L346.1 1090.1L343.8 1090.9L341.3 1091.3L338.7 1091.6L336.1 1091.5L333.4 1091.2L330.6 1090.5L327.9 1089.7L325.2 1088.5L322.6 1087.2L320.1 1085.6L317.7 1083.7L315 1081.2L311.6 1077.2L310 1074.8L308.6 1072.2L307.4 1069.6L306.6 1067L305.9 1064.4L305.6 1061.7L305.6 1059.2L305.8 1056.7L306.4 1054.3L307.2 1052L308.2 1049.9L309.6 1048L311.2 1046.3L312.9 1044.8M314.1 1050.7L315.7 1049.7L317.5 1048.8L319.5 1048.2L321.5 1047.8L325.9 1047.7L328.7 1048.1L332.6 1049.2L337 1051.3L341 1054.1L344.6 1057.6L347.4 1061.5L348.8 1064.1L350.3 1067.9L351 1072.3L350.9 1076.5L350 1079.7L348.9 1082.1L347.8 1083.7L346.5 1085.1L345 1086.3L343.3 1087.4L341.5 1088.2L339.6 1088.8L335.4 1089.4L332.6 1089.3L328.7 1088.6L324.2 1086.9L320 1084.4L316.2 1081.3L313 1077.6L310.5 1073.4L308.8 1069.1L308 1064.8L308.2 1060.6L308.6 1058.6L309.3 1056.7L310.2 1055L311.3 1053.4L312.6 1052L314.1 1050.7M310.1 1073.1L312.4 1074.1L315 1075.5L318.5 1078L320.4 1079.7L323.6 1083.4L325 1085.4L326.4 1088.1M435.6 955.3L437.6 954L439.8 953L443.4 952L447.2 951.5L449.8 951.6L452.5 951.9L455.3 952.5L458 953.4L460.7 954.5L463.3 955.9L465.8 957.5L468.2 959.3L470.9 961.9L474.3 965.8L475.9 968.3L477.3 970.8L478.5 973.4L479.3 976.1L479.9 978.7L480.3 981.3L480.2 984.5L480.1 986.4L479.5 988.8L478.7 991.1L477.6 993.2L476.3 995.1L474.7 996.8L472.9 998.3L470.9 999.6L468.8 1000.6L466.4 1001.3L463.9 1001.8L461.4 1002L458.7 1002L456 1001.6L453.3 1001L450.5 1000.2L447.9 999L445.3 997.6L442.8 996L440.4 994.2L438.2 992.2L436.1 990L434.2 987.7L432.6 985.3L431.2 982.7L430.1 980.1L429.2 977.5L428.6 974.9L428.3 972.2L428.2 970.3L428.5 967.2L429 964.8L429.8 962.5L430.9 960.4L432.2 958.5L433.8 956.8L435.6 955.3M436.7 961.2L438.4 960.2L440.2 959.3L442.1 958.7L444.2 958.3L448.5 958.2L451.3 958.6L455.2 959.7L459.6 961.7L463.7 964.6L467.2 968L470.1 972L471.5 974.6L472.9 978.4L473.7 982.8L473.5 987L473.1 988.9L472.4 990.8L471.1 993.1L469.1 995.6L467.6 996.8L466 997.9L464.2 998.7L462.2 999.3L458 999.9L453.6 999.6L449.1 998.3L444.7 996.3L440.7 993.4L438 990.9L435.6 988.1L433.1 983.9L431.4 979.6L430.7 975.2L430.8 971L431.3 969.1L432 967.2L432.8 965.5L433.9 963.9L435.2 962.4L436.7 961.2M432.8 983.6L435 984.5L438.7 986.7L441.2 988.5L443 990.2L446.3 993.9L447.6 995.9L449 998.6M163.5 988.2L161.5 990.7L160.3 993.2L159.1 997.2L158.6 1001L158.6 1003.1L158.6 1005.1L159.2 1009.4L160.3 1013.8L161.9 1018.4L164 1022.9L166.4 1027.3L169.8 1032.1L172.5 1035.6L176 1039.3L179.8 1042.6L183.7 1045.5L187.1 1047.7L191.6 1049.9L195.6 1051.3L199.5 1052.1L203.1 1052.4L206.6 1052L208.5 1051.4L209.7 1051L212.5 1049.5L214.9 1047.5L216.1 1045.9L216.9 1044.9L218.3 1041.9L219.3 1038.4L219.6 1036.5L219.8 1034.6L219.7 1030.5L219.2 1026.2L218.1 1021.8L216.2 1016.6L214.4 1012.8L211.9 1008.4L209.1 1004.1L205.8 1000.1L202.3 996.4L199.2 993.5L194.7 990.1L190.8 987.6L186.7 985.7L182.8 984.3L178.2 983.5L175.2 983.3L171.8 983.6L168.7 984.6L165.9 986.1L163.5 988.2M168.9 989.1L167.1 991.4L165.8 994.1L164.9 997.2L164.6 1000L164.5 1004.3L165.1 1008.2L166.1 1012.2L167.5 1016.2L169.3 1020.3L172.3 1025.4L174.2 1028.1L177 1031.7L180.2 1035.1L183.5 1038.1L187 1040.7L190.6 1042.9L194.2 1044.6L196 1045.3L197.8 1045.9L201.3 1046.6L204.6 1046.8L207.7 1046.5L210.5 1045.6L213 1044.3L215.2 1042.4L216.9 1040.1L218.2 1037.4L219.1 1034.3L219.5 1030.9L219.5 1029.4M191.6 987.7L189.8 986.9L186.3 985.6L182.8 984.9L179.5 984.7L176.4 985L173.5 985.9L171 987.2L168.9 989.1M172.7 986.3L171 988.6L169.9 990.8L168.7 994.4L168.3 997.8L168.4 1001.5L168.7 1004.1L169.9 1009.4L171.3 1013.4L173.2 1017.5L175.4 1021.5L178 1025.3L180.9 1028.9L183.1 1031.3L187.4 1035.3L190.9 1037.9L194.5 1040.1L198.1 1041.8L201.6 1043.1L205.1 1043.8L208.4 1044L211.5 1043.7L215 1042.5M175.2 985.2L173.5 988.5L172.6 991.6L172.2 995L172.2 996.5L172.2 998.7L172.7 1002.6L173.7 1006.6L175.5 1011.3L177 1014.7L179.2 1018.7L181.8 1022.5L184.7 1026.1L187.9 1029.5L190.3 1031.6L194.7 1035.1L198.3 1037.3L202.5 1039.3L205.5 1040.3L208.9 1041L212.2 1041.2L216 1040.7M177.8 984.6L177.3 985.7L176.4 988.8L176 992.2L176 995.9L176.6 999.8L177.6 1003.8L179.3 1008.5L180.8 1011.9L183.1 1015.9L185.7 1019.7L188.5 1023.3L191.7 1026.7L195 1029.7L196.8 1031L198.5 1032.3L202.1 1034.5L205.7 1036.2L209.3 1037.5L212.8 1038.2L216.1 1038.4L217.3 1038.3M180.6 984.8L180.2 986L179.8 989.4L179.9 993.1L180.4 997L181.4 1001L182.8 1005L184.7 1009.1L186.9 1013.1L189.5 1016.9L192.4 1020.5L195.5 1023.9L198.9 1026.9L202.4 1029.5L206 1031.7L209.6 1033.4L213.1 1034.7L216.6 1035.4L218.6 1035.5M183.8 985.3L183.7 986.6L183.7 990.3L184.2 994.2L185.2 998.2L186.7 1002.2L188.5 1006.3L190.7 1010.3L193.3 1014.1L196.2 1017.7L199.4 1021.1L202.7 1024.1L206.2 1026.7L209.8 1028.9L213.4 1030.6L217 1031.9L219 1032.3M187.5 986L187.6 987.5L188.1 991.4L189.1 995.4L190.5 999.4L192.3 1003.5L194.6 1007.5L197.2 1011.3L200 1014.9L203.2 1018.3L206.5 1021.3L210 1023.9L213.6 1026.1L217.2 1027.9L219 1028.5M191.8 987.9L192.9 992.6L194.3 996.6L196.2 1000.7L198.1 1004.1L201 1008.5L204.3 1012.6L207 1015.5L210.4 1018.5L213.9 1021.1L218.1 1023.6M197.7 992.5L200 997.9L202.2 1001.9L204.8 1005.7L207.7 1009.3L210.9 1012.7L214.2 1015.7L216.5 1017.4M430.8 1071.6L423 1079.3L415.5 1086.2L407.8 1092.8L397.8 1101L389.1 1107.6L383.2 1111.7L380.8 1113.3L377.3 1115.1L376.3 1115.3L375.8 1115.2L375.8 1114.6L376.3 1113.5L377.7 1111.7L380.8 1108.1L385.9 1102.9L392.4 1096.8L399.9 1090.2L412.1 1080L419 1074.7L425.5 1069.9L430.7 1066.5L434.2 1064.7L435.2 1064.4L435.8 1064.6L435.8 1065.2L435.5 1065.7L434.2 1067.6L430.8 1071.6M425.4 1070.1L417.4 1077.9L404.7 1089.2L391 1100.2L382 1106.5M426.7 1068.6L425.4 1070.1M429 1071.1L424 1076.1L415.2 1084.3L406.8 1091.6L399.2 1097.8L392 1103.5L384.1 1109.2L378.8 1112.4L376.3 1113.4M433.8 1064.9L432.3 1067.3L429 1071.1M427.2 1070.6L422.4 1075.5L416.3 1081.2L402 1093.5L394.9 1099.2L388.3 1104.2L382.8 1108L378.2 1110.7M431 1066L427.2 1070.6M179 957.5L139.8 999.3M433.1 894.3L393.9 936.1M375.3 936.7L373.2 938.9M493.9 1017.3L454.7 1059.1M287.8 1030.2L248.6 1072M317.3 1007.8L312.2 1013.2M198.3 1073.3L139.7 1005.8M139.7 1005.8L138.8 1004.4L138.5 1002.4L138.9 1000.7L139.8 999.3M179 957.5L179.7 956.9M179.7 956.9L367.9 819.5M367.9 819.5L369.6 818.7L371.3 818.6L373 819.1L374.7 820.3M374.7 820.3L433.3 887.8M433.3 887.8L434.1 889.3L434.5 891.2L434.1 892.9L433.1 894.3M393.9 936.1L393.3 936.7M393.3 936.7L379.5 946.8M375.3 936.7L374.8 937.7L374.8 938.9L375.4 940.5L376.4 942.1M376.4 942.1L384.7 951.6M384.7 951.6L386.2 952.9L387.9 953.8L389.9 954.2L391.3 953.8M391.3 953.8L415.5 936.2M415.5 936.2L419.6 933.5L424.1 931.4L428.9 929.9L434 928.9L439.2 928.5L444.5 928.6L449.9 929.3L455.3 930.5L460.6 932.2L465.9 934.4L470.9 937.1L475.8 940.2L480.4 943.7L484.8 947.6L488.7 951.9L492.4 956.4L495.5 961.2L498.3 966.1L500.5 971.2L502.2 976.4L503.4 981.7L504.1 986.9L504.2 992.1L503.7 997.2L502.6 1002.1L500.9 1006.7L498.7 1011.1L495.9 1015.1L493.9 1017.3M454.7 1059.1L453.4 1060.5L449.7 1063.6M449.7 1063.6L327 1153.1M327 1153.1L322.9 1155.7L318.4 1157.9L313.6 1159.4L308.5 1160.4L303.3 1160.8L298 1160.7L292.6 1160L287.2 1158.8L281.9 1157.1L276.6 1154.9L271.6 1152.2L266.7 1149.1L262.1 1145.5L257.7 1141.6L253.8 1137.4L250.1 1132.9L247 1128.1L244.2 1123.2L242 1118.1L240.3 1112.9L239.1 1107.6L238.4 1102.4L238.3 1097.2L238.8 1092.1L239.9 1087.2L241.6 1082.6L243.8 1078.2L246.6 1074.2L248.6 1072M287.8 1030.2L289.1 1028.8L292.8 1025.7M292.8 1025.7L317.1 1008M317.1 1008L317.3 1007.8M275.9 1043.1L268.7 1034.7M268.7 1034.7L267.2 1033.4L265.4 1032.5L263.4 1032.1L262 1032.5M262 1032.5L205 1074.1M205 1074.1L203.3 1074.9L201.7 1075.1L199.9 1074.6L198.3 1073.3M312.1 1052.5L310 1054.7M347 1084.5L346 1085.6M434.7 963L432.2 965.7M469.6 995L468.6 996.1"/>
<path class="i" d="M939.6 1088.3L993.7 1157.1M965 1045.1L1019.1 1114M970 1040.7L1024.1 1109.5M940.8 1088.3L939.6 1088.3M939.6 1088.3L965 1045.1M965 1045.1L970 1040.7M995.4 1157.2L993.7 1157.1M993.7 1157.1L1019.1 1114M1019.1 1114L1024.1 1109.5M1000.4 1158.8L1221.3 1029.8M1025.7 1115.6L1246.6 986.7M1024.1 1109.5L1245 980.6M997.9 1157.9L1000.4 1158.8M1000.4 1158.8L1025.7 1115.6M1025.7 1115.6L1024.1 1109.5M1219.4 1029.1L1221.3 1029.8M1221.3 1029.8L1246.6 986.7M1246.6 986.7L1245 980.6M1245 980.6L1190.9 911.7M1246.6 982L1247.4 980.7M1247.4 980.7L1245 980.6M1193.3 911.9L1190.9 911.7M1190.9 911.7L1124 950.8M1185.5 912.2L1186.6 910.2M1186.6 910.2L1190.9 911.7M1124 950.8L1123.2 951.2M1123.2 951.2L1122.3 951.5M1122.3 951.5L1121.3 951.8M1121.3 951.8L1120.3 951.9M1120.3 951.9L1119.3 952M1119.3 952L1118.3 951.9M1118.3 951.9L1117.2 951.7M1117.2 951.7L1116.2 951.5M1116.2 951.5L1115.2 951.1M1115.2 951.1L1114.2 950.7M1114.2 950.7L1113.2 950.2M1113.2 950.2L1112.3 949.6M1112.3 949.6L1111.5 948.9M1111.5 948.9L1110.7 948.1M1110.7 948.1L1110 947.3M1118.9 950.6L1119.7 949.3M1119.7 949.3L1124 950.8M1110 947.3L1102.4 937.6M1112.4 947.5L1110 947.3M1102.4 937.6L1101.8 936.8M1101.8 936.8L1101.3 935.9M1101.3 935.9L1100.9 935M1100.9 935L1100.5 934M1100.5 934L1100.3 933M1100.3 933L1100.2 932.1M1100.2 932.1L1100.2 931.1M1100.2 931.1L1100.3 930.2M1100.3 930.2L1100.5 929.3M1100.5 929.3L1100.9 928.5M1100.9 928.5L1101.3 927.7M1101.3 927.7L1101.8 926.9M1101.8 926.9L1102.4 926.3M1102.4 926.3L1103.1 925.7M1103.1 925.7L1103.9 925.1M1104.8 937.8L1102.4 937.6M1105.5 931.2L1133.9 914.7M1103.9 925.1L1132.2 908.6M1102.9 935.7L1105.5 931.2M1105.5 931.2L1103.9 925.1M1133.9 914.7L1138.1 911.9M1132.2 908.6L1136.1 906M1138.1 911.9L1141.9 908.6M1136.1 906L1139.6 903.1M1118.4 949.7L1119.9 948.1M1141.9 908.6L1145.2 905M1139.6 903.1L1142.6 899.7M1119.9 948.1L1122.7 944.1M1145.2 905L1148.1 900.9M1142.6 899.7L1145.2 896M1145.2 896L1147.3 892.1M1147.3 892.1L1148.9 887.8M1148.9 887.8L1150 883.4M1150 883.4L1150.5 878.8M1150.5 878.8L1150.5 874.1M1150.5 874.1L1150 869.3M1150 869.3L1148.9 864.6M1148.9 864.6L1147.3 859.8M1147.3 859.8L1145.2 855.2M1145.2 855.2L1142.6 850.8M1142.6 850.8L1139.6 846.5M1139.6 846.5L1136.1 842.5M1136.1 842.5L1132.3 838.7M1132.3 838.7L1128.1 835.3M1128.1 835.3L1123.6 832.3M1123.6 832.3L1118.9 829.7M1118.9 829.7L1113.9 827.5M1113.9 827.5L1108.9 825.7M1108.9 825.7L1103.7 824.5M1103.7 824.5L1098.5 823.7M1098.5 823.7L1093.4 823.4M1093.4 823.4L1088.3 823.6M1088.3 823.6L1083.4 824.3M1083.4 824.3L1078.6 825.5M1078.6 825.5L1074.2 827.2M1074.2 827.2L1070 829.3M1113.8 948.8L1133.9 914.7M1133.9 914.7L1132.2 908.6M1070 829.3L926 913.3M1064.5 829.8L1065.6 827.8M1065.6 827.8L1070 829.3M926 913.3L922.2 915.9M922.2 915.9L918.7 918.9M918.7 918.9L915.7 922.2M915.7 922.2L913.1 925.9M913.1 925.9L911 929.9M879.8 973.1L878.1 977.8M905.2 930L903.4 934.6M911 929.9L909.4 934.1M878.1 977.8L876.9 982.6M903.4 934.6L902.2 939.5M909.4 934.1L908.3 938.6M876.9 982.6L876.3 987.7M902.2 939.5L901.6 944.5M908.3 938.6L907.7 943.2M876.3 987.7L876.3 992.8M901.6 944.5L901.6 949.7M907.7 943.2L907.7 947.9M876.3 992.8L876.9 998M901.6 949.7L902.2 954.9M907.7 947.9L908.3 952.6M876.9 998L878 1003.2M902.2 954.9L903.4 960.1M908.3 952.6L909.3 957.4M878 1003.2L879.8 1008.4M903.4 960.1L905.2 965.3M909.3 957.4L910.9 962.1M879.8 1008.4L882.1 1013.5M905.2 965.3L907.5 970.3M910.9 962.1L913 966.7M882.1 1013.5L884.9 1018.4M907.5 970.3L910.3 975.2M913 966.7L915.6 971.2M884.9 1018.4L888.3 1023M910.3 975.2L913.6 979.9M915.6 971.2L918.7 975.5M888.3 1023L892.1 1027.5M913.6 979.9L917.4 984.3M918.7 975.5L922.1 979.5M892.1 1027.5L896.3 1031.5M917.4 984.3L921.6 988.4M922.1 979.5L926 983.2M896.3 1031.5L900.9 1035.3M921.6 988.4L926.2 992.1M926 983.2L930.2 986.6M900.9 1035.3L905.8 1038.6M926.2 992.1L931.2 995.5M930.2 986.6L934.7 989.6M905.8 1038.6L911 1041.5M931.2 995.5L936.3 998.3M934.7 989.6L939.4 992.3M911 1041.5L916.4 1043.9M936.3 998.3L941.7 1000.7M939.4 992.3L944.3 994.5M916.4 1043.9L921.9 1045.8M941.7 1000.7L947.3 1002.7M944.3 994.5L949.4 996.2M921.9 1045.8L927.6 1047.2M947.3 1002.7L953 1004M949.4 996.2L954.6 997.5M927.6 1047.2L933.3 1048M953 1004L958.6 1004.9M954.6 997.5L959.7 998.3M933.3 1048L938.9 1048.3M958.6 1004.9L964.3 1005.2M959.7 998.3L964.9 998.5M938.9 1048.3L944.5 1048.1M964.3 1005.2L969.8 1005M964.9 998.5L970 998.3M944.5 1048.1L949.9 1047.3M969.8 1005L975.2 1004.2M970 998.3L974.9 997.6M949.9 1047.3L955.1 1046M975.2 1004.2L980.4 1002.9M974.9 997.6L979.6 996.4M955.1 1046L960 1044.2M980.4 1002.9L985.4 1001.1M979.6 996.4L984.1 994.8M960 1044.2L962.6 1042.9M985.4 1001.1L989.9 998.7M984.1 994.8L988.3 992.6M920.6 913.8L921.7 911.8M921.7 911.8L926 913.3M989.9 998.7L1018.4 982.1M988.3 992.6L1016.8 976M966.9 1038L989.9 998.7M989.9 998.7L988.3 992.6M1016.8 976L1017.6 975.6M1017.6 975.6L1018.5 975.2M1018.5 975.2L1019.5 975M1019.5 975L1020.5 974.8M1020.5 974.8L1021.5 974.8M1021.5 974.8L1022.5 974.9M1022.5 974.9L1023.6 975M1023.6 975L1024.6 975.3M1024.6 975.3L1025.6 975.6M1025.6 975.6L1026.6 976.1M1026.6 976.1L1027.6 976.6M1027.6 976.6L1028.5 977.2M1028.5 977.2L1029.3 977.9M1029.3 977.9L1030.1 978.6M1030.1 978.6L1030.8 979.5M995 1022L1018.4 982.1M1018.4 982.1L1016.8 976M1025.8 983.9L1033.4 993.6M1030.8 979.5L1038.4 989.1M1007.6 1014.8L1025.8 983.9M1025.8 983.9L1030.8 979.5M1038.4 989.1L1039 990M1039 990L1039.5 990.9M1039.5 990.9L1040 991.8M1040 991.8L1040.3 992.8M1040.3 992.8L1040.5 993.7M1040.5 993.7L1040.6 994.7M1040.6 994.7L1040.6 995.6M1040.6 995.6L1040.5 996.6M1040.5 996.6L1040.3 997.4M1040.3 997.4L1040 998.3M1040 998.3L1039.5 999.1M1039.5 999.1L1039 999.8M1039 999.8L1038.4 1000.5M1038.4 1000.5L1037.7 1001.1M1037.7 1001.1L1036.9 1001.6M1028.1 1002.6L1033.4 993.6M1033.4 993.6L1038.4 989.1M1036.9 1001.6L970 1040.7M1031.5 1002.1L1032.6 1000.1M1032.6 1000.1L1036.9 1001.6M940.3 1082.3L965.7 1039.2M965.7 1039.2L970 1040.7M961.3 991.6L962.7 990.1L963.8 988.4L964.8 986.6L965.5 984.6L966 982.6L966.3 980.5L966.3 978.3L965.9 975.4L964.8 971.8L963.9 969.7L961.3 965.7L957.9 962.2L954 959.2L949.5 957L944.8 955.6L940.1 955.1L935.5 955.6L933.4 956.1L931.3 956.9L929.4 957.8L927.6 959L926 960.4L924.6 961.9L923.5 963.6L922.5 965.4L921.6 968M982.4 985.2L982.6 983.7L982.6 980L982.2 976.3L981.3 972.5L980.1 968.8L978.4 965.2L975.6 960.5L974 958.3L971.2 955.1L968.2 952.2L965.5 950L961.4 947.1L957.6 945.1L955.1 943.9L949.8 942L945.7 941L941.6 940.3L937.6 940.1L933.6 940.3L931.6 940.6L929.7 940.8L926 941.8L922.4 943.1L919.1 944.8L916.7 946.4M980.1 986.9L983.2 984.8L985.9 982.5L988.3 979.9L990.3 977L992 973.8L993.3 970.5L994.1 967L994.5 963.4L994.5 959.7L994.1 955.9L993.3 952.2L992 948.5L990.4 944.8L988.3 941.3L985.9 938L983.2 934.8L980.2 931.8L976.9 929.2L973.3 926.8L969.6 924.7L965.7 923L961.7 921.6L957.7 920.6L953.6 920L949.5 919.8L945.5 919.9L941.7 920.5L937.9 921.4L934.4 922.8L931.1 924.4L928.1 926.5L925.3 928.8L922.9 931.4L920.9 934.3L919.2 937.5L918.5 939.5L918 940.8L917.1 944.3L916.7 947.9L916.7 951.6L917.1 955.4L917.9 959.1L919.8 964L920.9 966.5L922.9 970L925.3 973.3L928 976.5L931.1 979.5L933.8 981.7L937.9 984.5L941.6 986.6L945.5 988.3L949.5 989.7L953.5 990.7L957.6 991.3L961.7 991.5L965.7 991.4L969.6 990.8L973.3 989.9L976.8 988.5L980.1 986.9M985.2 988.6L988.6 986.3L991.7 983.6L994.5 980.6L996.8 977.3L998.7 973.7L1000.1 969.9L1001.1 965.9L1001.6 961.8L1001.6 957.6L1001.1 953.3L1000.2 949L998.7 944.8L996.8 940.6L994.5 936.6L991.8 932.8L988.7 929.2L985.2 925.8L981.4 922.8L977.4 920L973.2 917.7L968.7 915.7L964.2 914.1L959.5 913L954.9 912.3L950.2 912L945.7 912.2L941.3 912.9L937 913.9L933 915.4L929.2 917.4L925.7 919.7L922.6 922.3L919.9 925.3L917.6 928.7L915.7 932.2L914.2 936L913.2 940L913.1 941.4L912.8 944.2L912.7 948.4L913.2 952.7L914.2 956.9L915.6 961.2L916.4 963L917.5 965.3L919.8 969.3L922.6 973.2L925.7 976.8L929.2 980.1L932.9 983.2L938.2 986.6L941.2 988.3L945.6 990.3L950.2 991.8L954.8 993L959.5 993.7L964.1 993.9L969.4 993.6L973.1 993.1L977.4 992L981.4 990.5L985.2 988.6M1105.2 907.6L1106.6 906.1L1107.8 904.4L1108.7 902.6L1109.5 900.6L1110 898.6L1110.2 896.5L1110.2 894.3L1109.8 891.4L1108.7 887.8L1107.8 885.7L1105.2 881.7L1101.8 878.1L1097.9 875.2L1095.7 874L1092.9 872.8L1088.8 871.6L1086.4 871.3L1081.7 871.2L1077.3 872.1L1075.2 872.9L1073.3 873.8L1071.5 875L1070 876.4L1068.6 877.9L1067.4 879.6L1066.4 881.4L1065.5 884M1126.3 901.2L1126.5 899.7L1126.5 896L1126.1 892.3L1124.8 887.3L1124 884.8L1122.3 881.2L1119.5 876.5L1117.9 874.3L1115.1 871.1L1111.6 867.7L1108.8 865.5L1105.3 863.1L1101.6 861.1L1098.3 859.6L1093.7 857.9L1089.6 856.9L1085.5 856.3L1081.5 856.1L1077.5 856.3L1073.6 856.8L1069.9 857.8L1066.3 859.1L1063 860.8L1061.2 862M1124 902.8L1127.1 900.8L1129.8 898.5L1132.2 895.9L1134.3 893L1135.9 889.8L1137.2 886.5L1138 883L1138.5 879.4L1138.5 875.7L1138 871.9L1137.2 868.2L1135.9 864.4L1134.3 860.8L1132.2 857.3L1129.8 853.9L1127.1 850.8L1124.1 847.8L1120.8 845.2L1117.2 842.8L1113.5 840.7L1109.6 839L1105.6 837.6L1101.6 836.6L1097.5 836L1093.4 835.8L1089.5 835.9L1085.6 836.5L1081.8 837.4L1078.3 838.7L1075 840.4L1072 842.4L1069.2 844.8L1066.8 847.4L1064.8 850.3L1063.1 853.5L1062.1 856.1L1061 860.3L1060.6 863.9L1060.6 867.6L1061 871.4L1061.9 875.1L1063.7 880L1064.8 882.5L1066.8 886L1069.2 889.3L1071.9 892.5L1075 895.4L1078.3 898.1L1081.8 900.5L1084.9 902.2L1089.4 904.3L1093.4 905.7L1097.5 906.7L1101.5 907.3L1105.6 907.5L1109.6 907.3L1111.5 907.1L1113.5 906.8L1117.2 905.8L1120.7 904.5L1124 902.8M1129.1 904.6L1132.5 902.3L1135.7 899.6L1138.4 896.6L1140.7 893.3L1142.6 889.7L1144.1 885.9L1145 881.9L1145.5 877.8L1145.5 873.6L1145 869.3L1144.1 865L1142.6 860.8L1140.7 856.6L1138.4 852.6L1135.7 848.8L1132.6 845.2L1129.1 841.8L1125.3 838.8L1121.3 836L1117.1 833.7L1112.6 831.7L1108.1 830.1L1103.5 829L1098.8 828.3L1094.2 828L1089.6 828.2L1085.2 828.9L1080.9 829.9L1076.9 831.4L1073.1 833.4L1069.7 835.7L1066.5 838.3L1063.8 841.3L1061.5 844.6L1059.6 848.2L1058.4 851.4L1057.2 856L1056.7 860.1L1056.7 864.4L1057.1 868.6L1058.1 872.9L1059.5 877.2L1061.4 881.3L1063.8 885.3L1064.9 887L1066.5 889.2L1069.6 892.8L1073.1 896.1L1076.8 899.2L1080.9 901.9L1084.5 903.9L1089.5 906.2L1094.1 907.8L1098.7 908.9L1103.4 909.7L1108 909.9L1112.6 909.7L1114.8 909.4L1117 909.1L1121.3 908L1125.3 906.5L1129.1 904.6M1003.1 1131.3L1004.3 1128.7L1005.1 1125.6L1005.4 1122L1005.3 1118.1L1004.3 1112.1L1003.7 1109.5L1002.3 1105L1000.5 1100.4L998.4 1095.8L995.9 1091.3L993.1 1086.9L989.7 1082.3L986.9 1079L983.6 1075.6L980.2 1072.6L976.8 1070.1L974 1068.5L970.2 1066.8L967.1 1066L964.2 1065.8L961.5 1066.2L959.2 1067.2L957.2 1068.8L956 1070.4L954.4 1073.6L953.6 1076.7L953.3 1080.2L953.4 1084.1L953.9 1087.6L954.9 1092.7L956.3 1097.3L958.1 1101.9L960.3 1106.5L961.7 1109.1L965.6 1115.3L969.9 1121.1L971.8 1123.2L975.1 1126.6L978.5 1129.6L981.9 1132.1L985.2 1134.1L987.2 1134.9L988.5 1135.5L991.6 1136.3L994.5 1136.5L997.1 1136.1L999.5 1135.1L1001 1133.9L1001.5 1133.5L1003.1 1131.3M1004 1126.4L1005.3 1123.3M973.7 1068.1L971.6 1067.6L969 1067.4L966.6 1067.8L964.5 1068.7L962.7 1070.1L961.3 1072L960.2 1074.4L959.5 1077.2L959.2 1080.4L959.3 1083.9L959.8 1087.7L960.4 1090.3L962 1095.7L963.6 1099.9L965.5 1104L967.8 1108.1L970.3 1112L973 1115.7L975.8 1119.1L978.8 1122.1L981.9 1124.8L985.5 1127.4L988 1128.8L990.9 1130.1L993.7 1130.8L996.3 1131L998.7 1130.6L1000.8 1129.7L1002.6 1128.3L1004 1126.4M967.2 1067.5L965.5 1070L964.7 1071.8L964 1074.6L963.7 1077.7L963.9 1081.9L964.3 1085L965.2 1089L966.5 1093.1L968.1 1097.2L969.8 1100.8L972.3 1105.4L974.8 1109.4L977.9 1113.6L980.3 1116.4L983.3 1119.5L986.4 1122.2L989.4 1124.4L992.5 1126.2L995.4 1127.4L998.2 1128.2L1000.8 1128.3L1002.6 1128.1M970 1067.3L969.2 1069.1L968.5 1071.9L968.2 1075.1L968.3 1078.6L968.8 1082.4L969.7 1086.4L971 1090.5L972.3 1093.9L974.5 1098.8L976.8 1102.8L979.3 1106.7L983.4 1112.1L987.8 1116.9L990.9 1119.6L993.9 1121.8L997 1123.6L999.9 1124.8L1002.7 1125.5L1004 1125.6M973.4 1067.9L973 1069.3L972.7 1072.5L972.8 1076L973.3 1079.8L974.2 1083.7L975.5 1087.8L977.1 1092L979 1096.1L981.3 1100.2L983.8 1104.1L986.5 1107.8L989.3 1111.2L992.3 1114.3L995.4 1116.9L998.4 1119.2L1001.5 1120.9L1005.1 1122.4M977.2 1070.6L977.3 1073.4L977.8 1077.1L978.7 1081.1L980 1085.2L981.6 1089.4L983.3 1092.9L985.8 1097.6L989.8 1103.6L993.8 1108.6L996.8 1111.6L999.9 1114.3L1002.9 1116.5L1005.4 1118M982.3 1074.5L983.2 1078.5L985.3 1084.7L988 1090.9L990.3 1094.9L992.8 1098.8L995.5 1102.5L998.3 1105.9L1001.3 1109L1003.9 1111.2M990 1082.7L992.5 1088.2L994.8 1092.3L997.3 1096.2L1000.9 1101M995.3 869.2L991.8 871.3M1222.6 1028.5L1247.9 985.4M1102.6 935.2L1104.1 932.6M1123.1 943.4L1148.4 900.3M881.8 969.4L907.1 926.3M1032.5 1001.3L1034 998.7M939.1 1083.6L964.4 1040.5M939.4 1089.1L993.5 1158M993.5 1158L994.8 1159.2L996.5 1159.8L998.4 1159.8L999.9 1159.2M999.9 1159.2L1220.8 1030.3M1220.8 1030.3L1221.8 1029.5L1222.6 1028.5M1247.9 985.4L1248.5 983.8L1248.6 982.6L1248.2 981.1L1247.5 979.8M1247.5 979.8L1193.5 911M1193.5 911L1192.1 909.8L1190.5 909.2L1188.6 909.2L1187.1 909.7M1187.1 909.7L1120.2 948.8M1120.2 948.8L1118.5 949.3L1116.2 949.1L1114.4 948.3L1112.5 946.6M1112.5 946.6L1104.9 936.9M1104.9 936.9L1104.3 936L1103.8 934.6L1103.8 933.4L1104.1 932.6M1118.8 949.4L1119.8 948.3L1123.1 943.4M1148.4 900.3L1150.5 896.4L1152.3 891.6L1153.5 886.6L1154.1 881.4L1154.1 876.2L1153.5 870.9L1152.3 865.6L1150.6 860.4L1148.3 855.3L1145.4 850.4L1142.1 845.8L1138.3 841.4L1134.2 837.4L1129.6 833.7L1124.8 830.4L1119.7 827.6L1114.4 825.2L1108.9 823.3L1103.3 821.9L1097.6 821.1L1092 820.8L1086.4 821L1081 821.8L1075.8 823.1L1070.8 825L1066.1 827.4M1066.1 827.4L922.2 911.4M922.2 911.4L917.8 914.3L913.9 917.6L910.5 921.4L907.1 926.3M881.8 969.4L879.8 973.2L877.9 978L876.7 983.1L876.1 988.2L876.1 993.5L876.7 998.8L877.9 1004.1L879.6 1009.3L882 1014.4L884.8 1019.3L888.1 1023.9L891.9 1028.3L896 1032.3L900.6 1036L905.4 1039.3L910.5 1042.1L915.9 1044.5L921.3 1046.4L926.9 1047.8L932.6 1048.6L938.2 1048.9L943.8 1048.7L949.2 1047.9L954.4 1046.6L959.4 1044.7L962.4 1043.2M1034 998.7L1033 999.7M1033 999.7L966.1 1038.7M966.1 1038.7L965.2 1039.4L964.4 1040.5M939.1 1083.6L938.5 1085.2L938.4 1086.3L938.7 1087.9L939.4 1089.1M921.8 966.4L923.3 963.9M989.9 977.8L990.6 976.5M918.7 938L920.6 934.8M1065.7 882.4L1067.2 879.9M1133.8 893.8L1134.5 892.5M1062.6 854L1064.5 850.8"/>
<path d="M0.8 0V1440M1439.25 0V1440" style="stroke:#000;stroke-width:1.6"/>
<path d="M0 0.7H1440" style="stroke:#000;stroke-width:1.4"/>
<path d="M0 1439.25H1440" style="stroke:#000;stroke-width:1.5"/>
</svg>
</body></html>
